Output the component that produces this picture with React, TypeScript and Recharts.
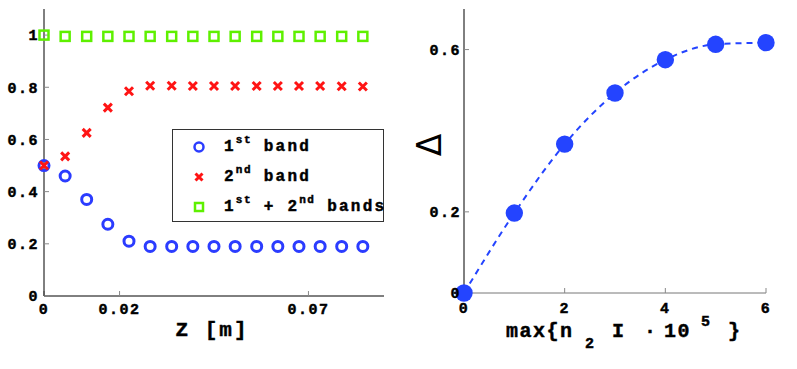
import React from 'react';
import { ScatterChart, Scatter, LineChart, Line, XAxis, YAxis, Legend } from 'recharts';

// panel (a): band populations along z
const zPositions = [0, 0.0056, 0.0113, 0.0169, 0.0225, 0.0281, 0.0338, 0.0394, 0.045, 0.0506, 0.0563, 0.0619, 0.0675, 0.0731, 0.0788, 0.0844];
const firstBand = [0.5, 0.46, 0.37, 0.275, 0.21, 0.19, 0.19, 0.19, 0.19, 0.19, 0.19, 0.19, 0.19, 0.19, 0.19, 0.19];
const secondBand = [0.5, 0.535, 0.625, 0.722, 0.785, 0.806, 0.806, 0.805, 0.805, 0.805, 0.805, 0.805, 0.805, 0.805, 0.804, 0.803];
const bothBands = [1.0, 0.995, 0.995, 0.995, 0.995, 0.995, 0.995, 0.995, 0.995, 0.995, 0.995, 0.995, 0.995, 0.995, 0.995, 0.995];
const zTicks = [0, 0.02, 0.07];
const popTicks = [0, 0.2, 0.4, 0.6, 0.8, 1];

// panel (b): Delta vs max{n2 I}
const intensity = [0, 1, 2, 3, 4, 5, 6];
const delta = [0, 0.197, 0.367, 0.493, 0.575, 0.613, 0.617];
const intensityTicks = [0, 2, 4, 6];
const deltaTicks = [0, 0.2, 0.6];

const MONO = '"Liberation Mono", "DejaVu Sans Mono", monospace';
const BLUE = '#2b3cff';
const RED = '#ff1414';
const GREEN = '#5ef000';
const DOT_BLUE = '#2444ff';

const firstData = zPositions.map((z, i) => ({ z, v: firstBand[i] }));
const secondData = zPositions.map((z, i) => ({ z, v: secondBand[i] }));
const bothData = zPositions.map((z, i) => ({ z, v: bothBands[i] }));
const deltaData = intensity.map((x, i) => ({ x, d: delta[i] }));

// courier-ish heavy text: bold mono plus a thin outline
const heavy = { stroke: '#000', strokeWidth: 0.45 };
const tickFont = { fontFamily: MONO, fontSize: 15, fontWeight: 700, fill: '#000', letterSpacing: 1.5, ...heavy };

const OpenCircle = (p: any) => <circle cx={p.cx} cy={p.cy} r={5} fill="none" stroke={BLUE} strokeWidth={3} />;
const BoldCross = (p: any) => (
  <path
    d={`M${p.cx - 4},${p.cy - 4}L${p.cx + 4},${p.cy + 4}M${p.cx + 4},${p.cy - 4}L${p.cx - 4},${p.cy + 4}`}
    stroke={RED}
    strokeWidth={3}
    fill="none"
  />
);
const OpenSquare = (p: any) => (
  <rect x={p.cx - 4.5} y={p.cy - 4.5} width={9} height={9} fill="none" stroke={GREEN} strokeWidth={2.5} />
);

const supStyle: React.CSSProperties = { fontSize: 11, letterSpacing: 1.5, verticalAlign: '8px', lineHeight: 0 };

function BandLegend() {
  const rows = [
    { icon: <circle cx={7} cy={7} r={4.5} fill="none" stroke={BLUE} strokeWidth={2.5} />, text: <>1<sup style={supStyle}>st</sup> band</> },
    { icon: <path d="M3.5,3.5L10.5,10.5M10.5,3.5L3.5,10.5" stroke={RED} strokeWidth={3} />, text: <>2<sup style={supStyle}>nd</sup> band</> },
    { icon: <rect x={3} y={3} width={8} height={8} fill="none" stroke={GREEN} strokeWidth={2.5} />, text: <>1<sup style={supStyle}>st</sup> + 2<sup style={supStyle}>nd</sup> bands</> },
  ];
  return (
    <div style={{ position: 'relative', width: 212, height: 93, boxSizing: 'border-box', border: '1px solid #333', background: '#fff' }}>
      {rows.map((r, i) => (
        <div key={i} style={{ position: 'absolute', left: 0, top: 2 + i * 30, height: 30, width: 240, display: 'flex', alignItems: 'center' }}>
          <svg width={14} height={14} style={{ marginLeft: 19 }}>{r.icon}</svg>
          <span style={{ marginLeft: 18, fontFamily: MONO, fontWeight: 700, fontSize: 16, letterSpacing: 2.2, whiteSpace: 'nowrap', color: '#000', WebkitTextStroke: '0.45px #000' }}>{r.text}</span>
        </div>
      ))}
    </div>
  );
}

const ZTitle = () => (
  <text x={212} y={336} textAnchor="middle" fontFamily={MONO} fontWeight={700} fontSize={21} letterSpacing={2} fill="#000" {...heavy}>Z [m]</text>
);
const TagA = () => (
  <text x={383} y={282} textAnchor="end" fontFamily={MONO} fontWeight={700} fontSize={18} letterSpacing={1} fill="#000" {...heavy}>(a)</text>
);
const TagB = () => (
  <text x={366} y={278} textAnchor="end" fontFamily={MONO} fontWeight={700} fontSize={18} letterSpacing={1} fill="#000" {...heavy}>(b)</text>
);
const DeltaTitle = () => (
  <text x={29} y={145} transform="rotate(-90 29 145)" textAnchor="middle" dominantBaseline="central" fontFamily="DejaVu Sans" fontSize={33} fill="#000">Δ</text>
);
const IntensityTitle = () => (
  <g fontFamily={MONO} fontWeight={700} fill="#000" {...heavy}>
    <text x={106} y={337} fontSize={20} letterSpacing={1.5}>max{'{'}n</text>
    <text x={185} y={348} fontSize={15}>2</text>
    <text x={212} y={337} fontSize={20}>I</text>
    <text x={244} y={337} fontSize={20}>·</text>
    <text x={264} y={337} fontSize={20} letterSpacing={1.5}>10</text>
    <text x={301} y={326} fontSize={15}>5</text>
    <text x={328} y={337} fontSize={20}>{'}'}</text>
  </g>
);

export default function App() {
  return (
    <div style={{ position: 'absolute', left: 0, top: 0, width: 797, height: 369, background: '#fff' }}>
      <div style={{ position: 'absolute', left: 0, top: 0 }}>
        <ScatterChart width={400} height={369} margin={{ top: 9, right: 16, bottom: 0, left: 0 }}>
          <XAxis
            type="number"
            dataKey="z"
            domain={[0, 0.09]}
            ticks={zTicks}
            height={73}
            tickSize={-5}
            tickMargin={12}
            tick={tickFont}
            stroke="#000"
            tickLine={{ stroke: '#888' }}
            label={<ZTitle />}
          />
          <XAxis xAxisId="top" orientation="top" type="number" domain={[0, 0.09]} ticks={zTicks} height={0} tickSize={-5} tick={false} allowDataOverflow stroke="#222" tickLine={{ stroke: '#888' }} />
          <YAxis
            type="number"
            dataKey="v"
            domain={[0, 1.1]}
            ticks={popTicks}
            width={44}
            tickSize={-5}
            tickMargin={10}
            tick={tickFont}
            stroke="#000"
            tickLine={{ stroke: '#888' }}
          />
          <YAxis yAxisId="right" orientation="right" type="number" domain={[0, 1.1]} ticks={popTicks} width={0} tickSize={-5} tick={false} allowDataOverflow stroke="#000" tickLine={{ stroke: '#888' }} label={<TagA />} />
          <Scatter name="1st band" data={firstData} shape={OpenCircle} fill={BLUE} isAnimationActive={false} />
          <Scatter name="2nd band" data={secondData} shape={BoldCross} fill={RED} isAnimationActive={false} />
          <Scatter name="1st + 2nd bands" data={bothData} shape={OpenSquare} fill={GREEN} isAnimationActive={false} />
          <Legend layout="vertical" align="center" verticalAlign="middle" wrapperStyle={{ left: 172, top: 129, width: 212, height: 93 }} content={BandLegend} />
        </ScatterChart>
      </div>
      <div style={{ position: 'absolute', left: 400, top: 0 }}>
        <LineChart width={397} height={369} data={deltaData} margin={{ top: 9, right: 31, bottom: 0, left: 0 }}>
          <XAxis
            type="number"
            dataKey="x"
            domain={[0, 6]}
            ticks={intensityTicks}
            height={76}
            tickSize={-5}
            tickMargin={14}
            tick={tickFont}
            stroke="#777"
            tickLine={{ stroke: '#888' }}
            label={<IntensityTitle />}
          />
          <XAxis xAxisId="top" orientation="top" type="number" domain={[0, 6]} ticks={intensityTicks} height={0} tickSize={-5} tick={false} allowDataOverflow stroke="#777" tickLine={{ stroke: '#888' }} />
          <YAxis
            type="number"
            domain={[0, 0.7]}
            ticks={deltaTicks}
            width={64}
            tickSize={-5}
            tickMargin={8}
            tick={tickFont}
            stroke="#000"
            tickLine={{ stroke: '#888' }}
            label={<DeltaTitle />}
          />
          <YAxis yAxisId="right" orientation="right" type="number" domain={[0, 0.7]} ticks={deltaTicks} width={0} tickSize={-5} tick={false} allowDataOverflow stroke="#888" tickLine={{ stroke: '#888' }} label={<TagB />} />
          <Line
            type="monotone"
            dataKey="d"
            stroke={DOT_BLUE}
            strokeWidth={2}
            strokeDasharray="6 5"
            dot={{ r: 8.7, fill: DOT_BLUE, stroke: DOT_BLUE, strokeWidth: 0 }}
            activeDot={false}
            isAnimationActive={false}
          />
        </LineChart>
      </div>
    </div>
  );
}
